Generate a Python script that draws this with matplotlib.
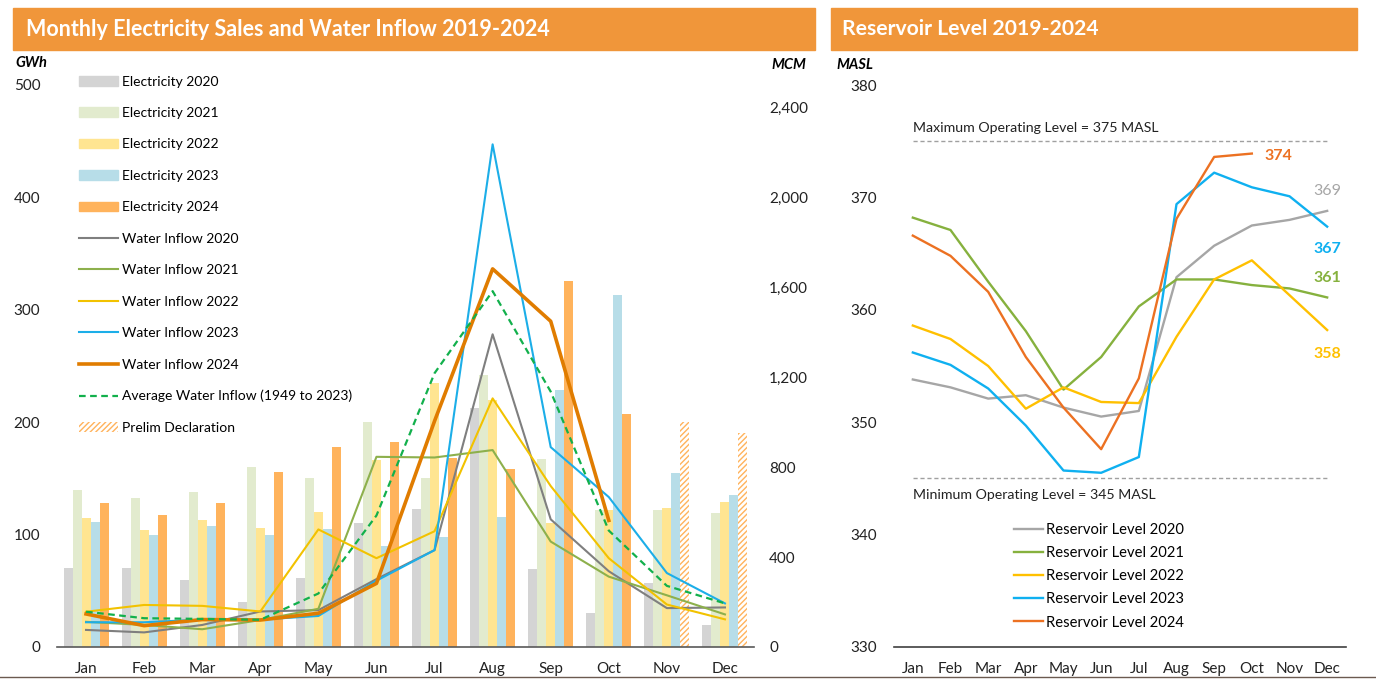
import numpy as np
import matplotlib
matplotlib.use("Agg")
import matplotlib.pyplot as plt
from matplotlib.patches import Rectangle, Patch
from matplotlib.lines import Line2D

plt.rcParams['font.family'] = ['Lato', 'DejaVu Sans']
plt.rcParams['hatch.linewidth'] = 1.0

# ---- data ----
months = ["Jan", "Feb", "Mar", "Apr", "May", "Jun",
          "Jul", "Aug", "Sep", "Oct", "Nov", "Dec"]

# electricity sales (GWh)
elec_2020 = [70, 70, 60, 40, 61, 110, 123, 213, 69, 30, 57, 20]
elec_2021 = [140, 133, 138, 160, 150, 200, 150, 242, 167, 122, 122, 119]
elec_2022 = [115, 104, 113, 106, 120, 166, 235, 220, 110, 122, 124, 129]
elec_2023 = [111, 100, 108, 100, 105, 90, 98, 116, 229, 313, 155, 135]
elec_2024 = [128, 117, 128, 156, 178, 182, 168, 158, 326, 207, np.nan, np.nan]
prelim_2024 = [np.nan] * 10 + [200, 190]

# water inflow (MCM)
inflow_2020 = [76, 65, 98, 158, 164, 302, 431, 1391, 568, 337, 173, 176]
inflow_2021 = [112, 98, 79, 120, 170, 846, 843, 876, 469, 313, 230, 145]
inflow_2022 = [157, 187, 183, 158, 523, 395, 515, 1106, 716, 395, 189, 123]
inflow_2023 = [110, 110, 122, 122, 138, 295, 431, 2236, 889, 667, 329, 194]
inflow_2024 = [147, 95, 122, 120, 150, 283, 1005, 1682, 1449, 563, np.nan, np.nan]
inflow_avg = [157, 128, 125, 121, 238, 585, 1218, 1583, 1136, 518, 272, 194]

# reservoir level (MASL)
level_2020 = [353.8, 353.1, 352.1, 352.4, 351.3, 350.5, 351.0, 362.9, 365.7, 367.5, 368.0, 368.8]
level_2021 = [368.2, 367.1, 362.5, 358.1, 352.9, 355.8, 360.3, 362.7, 362.7, 362.2, 361.9, 361.1]
level_2022 = [358.6, 357.4, 355.0, 351.2, 353.1, 351.8, 351.7, 357.6, 362.7, 364.4, 361.3, 358.2]
level_2023 = [356.2, 355.1, 353.0, 349.7, 345.7, 345.5, 346.9, 369.4, 372.2, 370.9, 370.1, 367.4]
level_2024 = [366.6, 364.8, 361.6, 355.8, 351.3, 347.6, 353.9, 368.1, 373.6, 373.9, np.nan, np.nan]

years = [2020, 2021, 2022, 2023, 2024]
elec = [elec_2020, elec_2021, elec_2022, elec_2023, elec_2024]
inflow = [inflow_2020, inflow_2021, inflow_2022, inflow_2023, inflow_2024]
levels = [level_2020, level_2021, level_2022, level_2023, level_2024]

bar_colors = ["#D4D4D4", "#E2EBCE", "#FFE591", "#B7DDE8", "#FFB35C"]
flow_colors = ["#7F7F7F", "#8DB04C", "#F2C200", "#1CAEE8", "#E07C00"]
flow_widths = [1.5, 1.5, 1.5, 1.5, 2.6]
level_colors = ["#A6A6A6", "#86B13E", "#FFC000", "#0FB0F0", "#EC7122"]

W, H = 1376, 679
fig = plt.figure(figsize=(W / 100, H / 100), dpi=100)


def fx(px):
    return px / W


def fy(py):
    return 1 - py / H


# ---- title bars ----
orange = "#F0963A"
fig.patches.append(Rectangle((fx(13), fy(50)), fx(815 - 13), (50 - 8) / H,
                             transform=fig.transFigure, color=orange, zorder=0))
fig.patches.append(Rectangle((fx(831), fy(50)), fx(1357 - 831), (50 - 8) / H,
                             transform=fig.transFigure, color=orange, zorder=0))
fig.text(fx(26), fy(29), "Monthly Electricity Sales and Water Inflow 2019-2024",
         color="white", fontsize=15.5, fontweight="bold", va="center")
fig.text(fx(842), fy(29), "Reservoir Level 2019-2024",
         color="white", fontsize=15.2, fontweight="bold", va="center")

# ---- left chart ----
x = np.arange(12)
bw = 0.155
ax = fig.add_axes([fx(57), 1 - 647 / H, fx(754 - 57), 562 / H])
for i, (vals, c) in enumerate(zip(elec, bar_colors)):
    ax.bar(x + (i - 2) * bw, vals, width=bw, color=c, zorder=1)
ax.bar(x + 2 * bw, prelim_2024, width=bw, facecolor="white",
       edgecolor="#FFB35C", hatch="//////", linewidth=0, zorder=1)
ax.set_ylim(0, 500)
ax.set_xlim(-0.5, 11.5)
ax.set_yticks(range(0, 501, 100))
ax.set_xticks(x)
ax.set_xticklabels(months)
ax.tick_params(axis="both", length=0, labelsize=11, colors="#222222")
ax.tick_params(axis="y", pad=12)
ax.tick_params(axis="x", pad=11)
for s in ["top", "right", "left"]:
    ax.spines[s].set_visible(False)
ax.spines["bottom"].set_color("#595959")
ax.spines["bottom"].set_linewidth(1.2)

ax2 = ax.twinx()
for i, (vals, c, lw) in enumerate(zip(inflow, flow_colors, flow_widths)):
    ax2.plot(x, vals, color=c, lw=lw, zorder=3)
ax2.plot(x, inflow_avg, color="#12B04C", lw=1.6, ls=(0, (3, 2)), zorder=3)
ax2.set_ylim(0, 2500)
ax2.set_yticks(range(0, 2401, 400))
ax2.set_yticklabels([f"{v:,}" for v in range(0, 2401, 400)])
ax2.tick_params(axis="y", length=0, labelsize=11, colors="#222222", pad=11)
for s in ["top", "right", "left", "bottom"]:
    ax2.spines[s].set_visible(False)

fig.text(fx(15), fy(63), "GWh", fontsize=10.5, fontweight="bold",
         style="italic", va="center")
fig.text(fx(771), fy(65), "MCM", fontsize=10.5, fontweight="bold",
         style="italic", va="center")

handles = [Patch(color=c) for c in bar_colors]
handles += [Line2D([], [], color=c, lw=lw) for c, lw in zip(flow_colors, flow_widths)]
handles += [Line2D([], [], color="#12B04C", lw=1.6, ls=(0, (3, 2))),
            Patch(facecolor="white", edgecolor="#FFB35C", hatch="//////", linewidth=0)]
labels = [f"Electricity {y}" for y in years]
labels += [f"Water Inflow {y}" for y in years]
labels += ["Average Water Inflow (1949 to 2023)", "Prelim Declaration"]
fig.legend(handles, labels, loc="upper left", bbox_to_anchor=(fx(79), fy(75.5)),
           frameon=False, fontsize=10, labelspacing=1.4, handlelength=2.8,
           handleheight=0.7, handletextpad=0.3, borderaxespad=0, borderpad=0)

# ---- right chart ----
ax3 = fig.add_axes([fx(894), 1 - 647 / H, fx(1346 - 894), 562 / H])
for vals, c in zip(levels, level_colors):
    ax3.plot(x, vals, color=c, lw=1.7, zorder=3)
ax3.set_ylim(330, 380)
ax3.set_xlim(-0.5, 11.5)
ax3.set_yticks(range(330, 381, 10))
ax3.set_xticks(x)
ax3.set_xticklabels(months)
ax3.tick_params(axis="both", length=0, labelsize=11, colors="#222222")
ax3.tick_params(axis="y", pad=12)
ax3.tick_params(axis="x", pad=11)
for s in ["top", "right", "left"]:
    ax3.spines[s].set_visible(False)
ax3.spines["bottom"].set_color("#404040")
ax3.spines["bottom"].set_linewidth(1.2)

ax3.hlines([375, 345], 0, 11, colors="#A0A0A0", lw=1, linestyles=(0, (3, 2)))
ax3.text(0, 375.6, "Maximum Operating Level = 375 MASL", fontsize=10.2,
         va="bottom", ha="left", color="#222222")
ax3.text(0, 344.1, "Minimum Operating Level = 345 MASL", fontsize=10.2,
         va="top", ha="left", color="#222222")

ends = [(11, 370.55, "369", level_colors[0], "normal"),
        (11, 365.4, "367", level_colors[3], "bold"),
        (11, 362.8, "361", level_colors[1], "bold"),
        (11, 356.1, "358", level_colors[2], "bold"),
        (9.33, 373.7, "374", level_colors[4], "bold")]
for xe, ye, t, c, wt in ends:
    ax3.text(xe, ye, t, color=c, fontsize=11.5, fontweight=wt,
             ha="center" if xe == 11 else "left", va="center")

lh = [Line2D([], [], color=c, lw=1.7) for c in level_colors]
fig.legend(lh, [f"Reservoir Level {y}" for y in years], loc="upper left",
           bbox_to_anchor=(fx(1014), fy(523)), frameon=False, fontsize=10.6,
           labelspacing=0.62, handlelength=2.0, handletextpad=0.15,
           borderaxespad=0, borderpad=0)

fig.text(fx(836), fy(65), "MASL", fontsize=10.5, fontweight="bold",
         style="italic", va="center")

# bottom frame line
fig.add_artist(Line2D([0, 1], [fy(677), fy(677)], color="#6B5A50", lw=1,
                      transform=fig.transFigure))

fig.savefig("out.png", dpi=100)
